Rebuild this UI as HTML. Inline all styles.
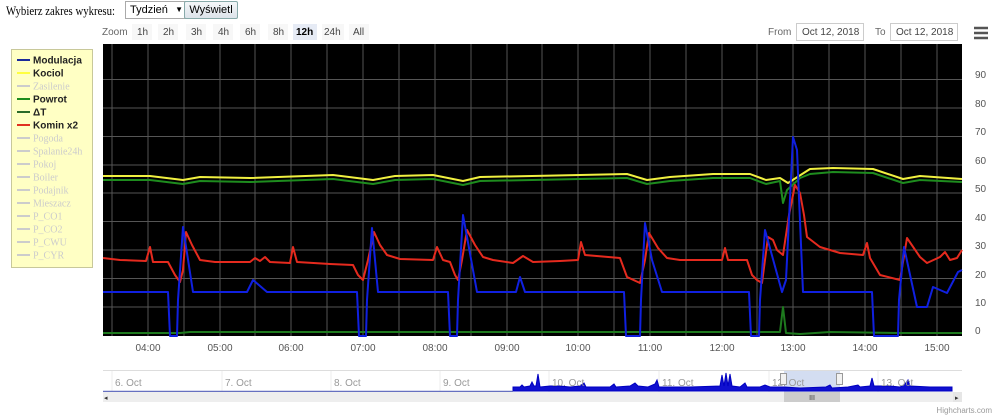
<!DOCTYPE html>
<html><head><meta charset="utf-8"><style>
body{margin:0;width:1000px;height:419px;background:#fff;overflow:hidden;position:relative;font-family:"Liberation Sans",sans-serif}
.t{position:absolute;white-space:nowrap}
</style></head><body>
<div class="t" style="left:6px;top:3px;font:13px 'Liberation Serif',serif;color:#000;transform:scaleX(0.83);transform-origin:0 0">Wybierz zakres wykresu:</div>
<div class="t" style="left:125px;top:1px;width:56px;height:16px;border:1px solid #aaa;font-size:11px;line-height:16px;padding-left:4px;background:#fff">Tydzień<span style="position:absolute;right:3px;font-size:8px">▼</span></div>
<div class="t" style="left:184px;top:1px;width:52px;height:16px;border:1px solid #8aa;border-radius:2px;background:linear-gradient(#f4f6f8,#dde3ea);font-size:11px;line-height:16px;text-align:center">Wyświetl</div>
<svg width="1000" height="419" style="position:absolute;left:0;top:0" font-family="Liberation Sans, sans-serif">
<g font-size="10" fill="#444">
<text x="102" y="35" fill="#666">Zoom</text>
<rect x="132" y="24" width="20" height="16" fill="#f7f7f7"/><text x="137" y="35">1h</text>
<rect x="158" y="24" width="20" height="16" fill="#f7f7f7"/><text x="163" y="35">2h</text>
<rect x="186" y="24" width="20" height="16" fill="#f7f7f7"/><text x="191" y="35">3h</text>
<rect x="213" y="24" width="20" height="16" fill="#f7f7f7"/><text x="218" y="35">4h</text>
<rect x="240" y="24" width="20" height="16" fill="#f7f7f7"/><text x="245" y="35">6h</text>
<rect x="268" y="24" width="20" height="16" fill="#f7f7f7"/><text x="273" y="35">8h</text>
<rect x="293" y="24" width="24" height="16" fill="#e6ebf5"/><text x="296" y="35" font-weight="bold" fill="#000">12h</text>
<rect x="322" y="24" width="22" height="16" fill="#f7f7f7"/><text x="324" y="35">24h</text>
<rect x="349" y="24" width="20" height="16" fill="#f7f7f7"/><text x="353" y="35">All</text>
<text x="768" y="35" fill="#666">From</text>
<rect x="796.5" y="23.5" width="67" height="17" fill="#fff" stroke="#ccc"/><text x="802" y="35">Oct 12, 2018</text>
<text x="875" y="35" fill="#666">To</text>
<rect x="890.5" y="23.5" width="67" height="17" fill="#fff" stroke="#ccc"/><text x="896" y="35">Oct 12, 2018</text>
</g>
<g stroke="#555" stroke-width="2.5"><line x1="974" y1="28" x2="988" y2="28"/><line x1="974" y1="33" x2="988" y2="33"/><line x1="974" y1="38" x2="988" y2="38"/></g>
<rect x="11.5" y="49.5" width="81" height="218" fill="#ffffc4" stroke="#c8c89a"/>
<g font-size="10" font-weight="bold">
<line x1="17" y1="60" x2="30" y2="60" stroke="#1a2a9a" stroke-width="2"/><text x="33" y="63.5" fill="#222">Modulacja</text>
<line x1="17" y1="73" x2="30" y2="73" stroke="#ffff40" stroke-width="2"/><text x="33" y="76.5" fill="#222">Kociol</text>
<line x1="17" y1="86" x2="30" y2="86" stroke="#ccc" stroke-width="2"/><text x="33" y="89.5" fill="#ccc" font-weight="normal" font-family="Liberation Serif, serif">Zasilenie</text>
<line x1="17" y1="99" x2="30" y2="99" stroke="#1e8c1e" stroke-width="2"/><text x="33" y="102.5" fill="#222">Powrot</text>
<line x1="17" y1="112" x2="30" y2="112" stroke="#2a6a2a" stroke-width="2"/><text x="33" y="115.5" fill="#222">ΔT</text>
<line x1="17" y1="125" x2="30" y2="125" stroke="#e03020" stroke-width="2"/><text x="33" y="128.5" fill="#222">Komin x2</text>
</g>
<g font-size="10" fill="#ccc" font-family="Liberation Serif, serif" stroke-width="2">
<g stroke="#ccc"><line x1="17" y1="138" x2="30" y2="138"/><line x1="17" y1="151" x2="30" y2="151"/><line x1="17" y1="164" x2="30" y2="164"/><line x1="17" y1="177" x2="30" y2="177"/><line x1="17" y1="190" x2="30" y2="190"/><line x1="17" y1="203" x2="30" y2="203"/><line x1="17" y1="216" x2="30" y2="216"/><line x1="17" y1="229" x2="30" y2="229"/><line x1="17" y1="242" x2="30" y2="242"/><line x1="17" y1="255" x2="30" y2="255"/></g>
<text x="33" y="141.5">Pogoda</text><text x="33" y="154.5">Spalanie24h</text><text x="33" y="167.5">Pokoj</text><text x="33" y="180.5">Boiler</text><text x="33" y="193.5">Podajnik</text><text x="33" y="206.5">Mieszacz</text><text x="33" y="219.5">P_CO1</text><text x="33" y="232.5">P_CO2</text><text x="33" y="245.5">P_CWU</text><text x="33" y="258.5">P_CYR</text>
</g>
<rect x="103" y="44" width="859" height="292" fill="#000"/>
<g stroke="#555" stroke-width="1">
<line x1="103" y1="79.5" x2="962" y2="79.5"/><line x1="103" y1="108" x2="962" y2="108"/><line x1="103" y1="136.5" x2="962" y2="136.5"/><line x1="103" y1="165" x2="962" y2="165"/><line x1="103" y1="193" x2="962" y2="193"/><line x1="103" y1="221.5" x2="962" y2="221.5"/><line x1="103" y1="250" x2="962" y2="250"/><line x1="103" y1="278.5" x2="962" y2="278.5"/><line x1="103" y1="307" x2="962" y2="307"/>
<line x1="112" y1="44" x2="112" y2="336"/><line x1="148" y1="44" x2="148" y2="336"/><line x1="184" y1="44" x2="184" y2="336"/><line x1="220" y1="44" x2="220" y2="336"/><line x1="255" y1="44" x2="255" y2="336"/><line x1="291" y1="44" x2="291" y2="336"/><line x1="327" y1="44" x2="327" y2="336"/><line x1="363" y1="44" x2="363" y2="336"/><line x1="399" y1="44" x2="399" y2="336"/><line x1="435" y1="44" x2="435" y2="336"/><line x1="471" y1="44" x2="471" y2="336"/><line x1="507" y1="44" x2="507" y2="336"/><line x1="542" y1="44" x2="542" y2="336"/><line x1="578" y1="44" x2="578" y2="336"/><line x1="614" y1="44" x2="614" y2="336"/><line x1="650" y1="44" x2="650" y2="336"/><line x1="686" y1="44" x2="686" y2="336"/><line x1="722" y1="44" x2="722" y2="336"/><line x1="757" y1="44" x2="757" y2="336"/><line x1="793" y1="44" x2="793" y2="336"/><line x1="829" y1="44" x2="829" y2="336"/><line x1="865" y1="44" x2="865" y2="336"/><line x1="901" y1="44" x2="901" y2="336"/><line x1="937" y1="44" x2="937" y2="336"/>
</g>
<g fill="none" stroke-width="2" stroke-linejoin="round">
<polyline stroke="#1e7a1e" points="103,333 180,333 190,332 300,332 400,332 500,332 600,332 700,332 780,332 783,307 786,333 800,334 830,332 900,333 962,333"/>
<polyline stroke="#1e8c1e" points="103,180 150,180 183,184 200,181 250,182 333,179 373,184 395,180 433,179 463,185 480,181 580,179 627,178 647,184 670,181 713,178 750,178 766,184 780,181 783,203 787,190 800,178 810,174 833,172 873,173 903,183 920,180 962,182"/>
<polyline stroke="#f0f040" points="103,176 150,176 183,180 200,177 250,178 333,175 373,180 395,176 433,175 463,181 480,177 580,175 627,174 647,180 670,177 713,174 750,174 766,180 780,178 788,183 810,169 833,168 873,169 903,179 920,176 962,179"/>
<polyline stroke="#e52a1e" points="103,258 120,260 146,261 150,247 153,262 168,262 175,275 180,282 183,270 186,232 192,245 200,260 215,262 250,262 255,258 260,261 265,257 270,262 290,263 293,247 297,262 330,264 353,265 358,275 363,280 368,260 374,232 380,245 387,255 400,259 433,260 437,247 443,260 450,262 455,275 458,280 462,260 467,230 475,245 483,257 493,260 513,263 523,256 533,262 560,261 578,260 581,242 585,255 620,258 627,277 640,283 645,260 649,233 658,248 667,258 680,260 722,260 725,248 728,260 747,260 752,275 757,280 762,283 768,237 773,240 777,250 783,255 789,215 795,185 800,193 804,215 807,237 820,247 840,253 863,255 867,243 870,258 880,275 900,280 907,238 920,257 927,263 940,257 945,252 950,260 957,258 962,250"/>
<polyline stroke="#1020e0" points="103,292 168,292 170,336 177,336 178,300 183,227 193,292 247,292 253,280 267,292 357,292 359,336 366,336 367,300 372,228 378,292 448,292 450,336 457,336 458,300 463,215 477,292 516,292 520,277 525,292 624,292 626,336 640,336 641,300 645,223 652,260 662,292 749,292 751,336 759,336 760,300 765,230 782,292 786,280 793,137 797,150 803,292 872,292 874,336 898,336 899,300 904,247 917,307 927,307 933,287 940,290 947,293 958,272 962,270"/>
</g>
<g font-size="10" fill="#555" text-anchor="middle">
<text x="148" y="351">04:00</text><text x="220" y="351">05:00</text><text x="291" y="351">06:00</text><text x="363" y="351">07:00</text><text x="435" y="351">08:00</text><text x="507" y="351">09:00</text><text x="578" y="351">10:00</text><text x="650" y="351">11:00</text><text x="722" y="351">12:00</text><text x="793" y="351">13:00</text><text x="865" y="351">14:00</text><text x="937" y="351">15:00</text>
</g>
<g font-size="10" fill="#555"><text x="975" y="78">90</text><text x="975" y="107">80</text><text x="975" y="135">70</text><text x="975" y="164">60</text><text x="975" y="192">50</text><text x="975" y="221">40</text><text x="975" y="249">30</text><text x="975" y="278">20</text><text x="975" y="306">10</text><text x="975" y="334">0</text></g>
<line x1="103" y1="370.5" x2="962" y2="370.5" stroke="#ddd"/>
<g stroke="#eee"><line x1="112" y1="371" x2="112" y2="392"/><line x1="222" y1="371" x2="222" y2="392"/><line x1="331" y1="371" x2="331" y2="392"/><line x1="440" y1="371" x2="440" y2="392"/><line x1="549" y1="371" x2="549" y2="392"/><line x1="659" y1="371" x2="659" y2="392"/><line x1="769" y1="371" x2="769" y2="392"/><line x1="878" y1="371" x2="878" y2="392"/></g>
<rect x="784" y="371" width="56" height="21" fill="#c8d4ee" opacity="0.8"/>
<path fill="#1010d0" stroke="#0000c0" stroke-width="1" d="M513,391 L513,387 520,387 522,385 524,387 530,386 532,382 534,386 536,386 538,374 540,387 550,386 560,386 570,387 580,386 584,383 586,387 600,387 610,387 614,384 616,387 630,386 635,383 638,386 648,387 655,384 657,380 659,387 670,387 690,387 720,386 722,375 724,386 726,373 728,386 730,374 732,386 740,387 745,383 747,387 760,387 765,385 770,387 784,387 800,388 826,387 830,385 832,388 848,387 858,385 860,387 870,386 872,378 874,386 890,386 900,387 905,384 908,380 910,386 930,387 952,387 952,391 Z"/>
<line x1="103" y1="391.5" x2="513" y2="391.5" stroke="#6670c0" stroke-width="1.5"/>
<g font-size="10" fill="#999"><text x="115" y="386">6. Oct</text><text x="225" y="386">7. Oct</text><text x="334" y="386">8. Oct</text><text x="443" y="386">9. Oct</text><text x="552" y="386">10. Oct</text><text x="662" y="386">11. Oct</text><text x="772" y="386">12. Oct</text><text x="881" y="386">13. Oct</text></g>
<rect x="780.5" y="373.5" width="6" height="11" fill="#f2f2f2" stroke="#999"/><rect x="836.5" y="373.5" width="6" height="11" fill="#f2f2f2" stroke="#999"/>
<rect x="103" y="392" width="859" height="10" fill="#eee"/>
<rect x="784" y="392" width="56" height="10" fill="#ccc"/>
<text x="812" y="400" font-size="7" fill="#333" text-anchor="middle">III</text>
<rect x="953" y="392" width="9" height="10" fill="#e6e6e6"/>
<text x="104" y="400" font-size="7" fill="#333">◂</text><text x="955" y="400" font-size="7" fill="#333">▸</text>
<text x="992" y="413" font-size="8" fill="#999" text-anchor="end">Highcharts.com</text>
</svg>
</body></html>
